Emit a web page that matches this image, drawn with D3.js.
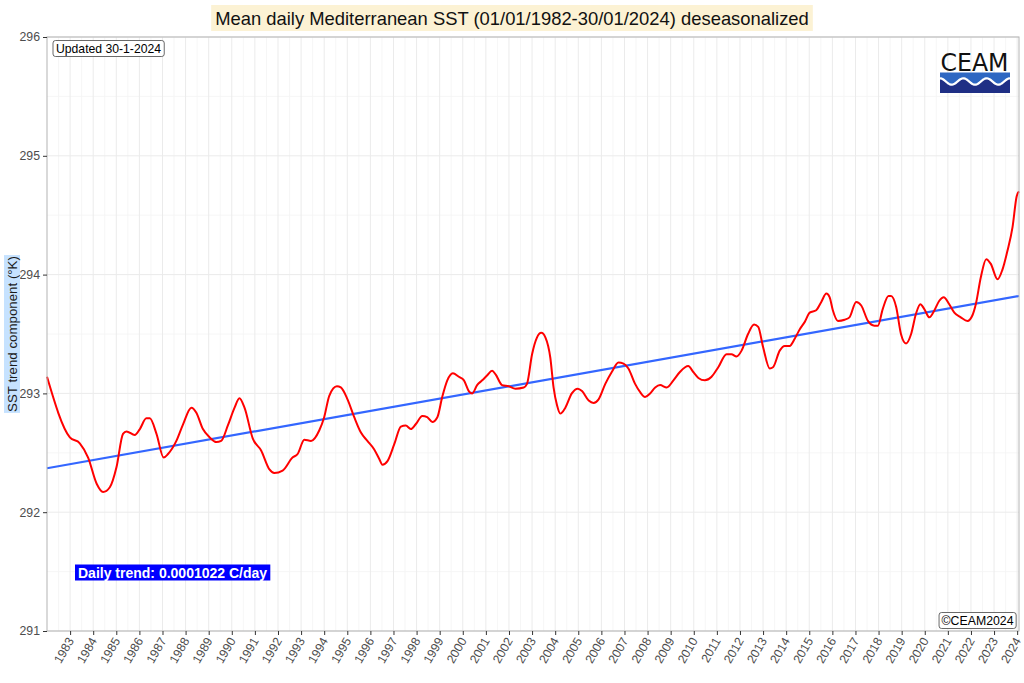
<!DOCTYPE html>
<html>
<head>
<meta charset="utf-8">
<script src="https://cdn.jsdelivr.net/npm/d3@7"></script>
<style>
  html, body { margin: 0; padding: 0; background: #ffffff; }
  svg { display: block; font-family: "Liberation Sans", Arial, sans-serif; }
</style>
</head>
<body>
<svg id="chart" width="1024" height="683"></svg>
<script>
// ---------------- data ----------------
const title = "Mean daily Mediterranean SST (01/01/1982-30/01/2024) deseasonalized";
const yTitle = "SST trend component (°K)";
const updatedLabel = "Updated 30-1-2024";
const trendLabel = "Daily trend: 0.0001022 C/day";
const copyrightLabel = "©CEAM2024";

const xTickYears = d3.range(1983, 2025);
const yTickValues = [291, 292, 293, 294, 295, 296];

// decimal year of each point
const sstYears = [
  1982.00, 1982.99, 1983.42, 1983.78, 1984.15, 1984.43, 1984.72, 1985.01, 1985.29, 1985.44,
  1985.80, 1986.02, 1986.30, 1986.45, 1986.74, 1987.05, 1987.24, 1987.60, 1987.89, 1988.25,
  1988.46, 1988.75, 1989.04, 1989.33, 1989.54, 1989.83, 1990.12, 1990.33, 1990.55, 1990.91,
  1991.27, 1991.63, 1991.84, 1992.20, 1992.63, 1992.85, 1993.14, 1993.43, 1993.79, 1994.00,
  1994.22, 1994.55, 1994.72, 1995.01, 1995.30, 1995.59, 1995.87, 1996.16, 1996.38, 1996.52,
  1996.74, 1997.03, 1997.32, 1997.53, 1997.75, 1997.96, 1998.25, 1998.46, 1998.68, 1998.90,
  1999.11, 1999.33, 1999.57, 1999.83, 2000.05, 2000.26, 2000.41, 2000.62, 2000.84, 2001.05,
  2001.27, 2001.42, 2001.70, 2001.99, 2002.28, 2002.64, 2002.78, 2003.00, 2003.21, 2003.40,
  2003.58, 2003.79, 2003.93, 2004.08, 2004.22, 2004.44, 2004.72, 2004.98, 2005.16, 2005.45,
  2005.66, 2005.88, 2006.17, 2006.45, 2006.74, 2006.96, 2007.17, 2007.46, 2007.68, 2007.89,
  2008.11, 2008.33, 2008.54, 2008.83, 2009.12, 2009.40, 2009.76, 2009.98, 2010.20, 2010.48,
  2010.77, 2011.06, 2011.42, 2011.63, 2011.85, 2012.07, 2012.35, 2012.61, 2012.79, 2013.00,
  2013.29, 2013.43, 2013.72, 2013.94, 2014.15, 2014.37, 2014.59, 2014.80, 2015.02, 2015.30,
  2015.52, 2015.74, 2015.88, 2016.02, 2016.24, 2016.53, 2016.74, 2017.03, 2017.25, 2017.54,
  2017.82, 2017.97, 2018.18, 2018.43, 2018.54, 2018.76, 2018.97, 2019.19, 2019.41, 2019.62,
  2019.81, 2019.98, 2020.20, 2020.42, 2020.63, 2020.82, 2021.06, 2021.28, 2021.56, 2021.85,
  2022.07, 2022.21, 2022.43, 2022.66, 2022.86, 2023.15, 2023.36, 2023.58, 2023.80, 2023.98,
  2024.08
];
const sstValues = [
  293.14, 292.63, 292.58, 292.46, 292.24, 292.17, 292.21, 292.38, 292.66, 292.68,
  292.65, 292.70, 292.79, 292.79, 292.66, 292.46, 292.49, 292.60, 292.74, 292.88,
  292.84, 292.70, 292.63, 292.59, 292.60, 292.73, 292.88, 292.96, 292.88, 292.62,
  292.52, 292.36, 292.33, 292.35, 292.46, 292.49, 292.61, 292.60, 292.69, 292.80,
  292.98, 293.06, 293.05, 292.95, 292.80, 292.67, 292.60, 292.53, 292.45, 292.40,
  292.43, 292.57, 292.72, 292.73, 292.70, 292.74, 292.81, 292.80, 292.76, 292.80,
  292.97, 293.11, 293.17, 293.14, 293.11, 293.02, 293.00, 293.07, 293.11, 293.15,
  293.19, 293.16, 293.07, 293.06, 293.04, 293.05, 293.08, 293.33, 293.47, 293.51,
  293.47, 293.30, 293.05, 292.90, 292.83, 292.88, 293.00, 293.04, 293.02, 292.94,
  292.92, 292.95, 293.08, 293.18, 293.26, 293.25, 293.21, 293.08, 293.01, 292.97,
  293.00, 293.05, 293.07, 293.05, 293.11, 293.18, 293.23, 293.18, 293.13, 293.11,
  293.14, 293.22, 293.33, 293.33, 293.31, 293.36, 293.50, 293.58, 293.56, 293.39,
  293.21, 293.22, 293.36, 293.40, 293.40, 293.46, 293.54, 293.60, 293.68, 293.70,
  293.77, 293.84, 293.81, 293.70, 293.61, 293.62, 293.64, 293.77, 293.74, 293.61,
  293.57, 293.57, 293.71, 293.82, 293.82, 293.73, 293.50, 293.42, 293.50, 293.67,
  293.75, 293.71, 293.64, 293.70, 293.78, 293.81, 293.75, 293.68, 293.64, 293.61,
  293.66, 293.75, 293.98, 294.13, 294.09, 293.96, 294.04, 294.20, 294.40, 294.66,
  294.70
];

const trendYears = [1982.00, 2024.08];
const trendValues = [292.37, 293.82];

// ---------------- layout ----------------
const svg = d3.select("#chart");
const margin = { left: 47, right: 1019, top: 37, bottom: 631 };

const x = d3.scaleLinear().domain([1982.0, 2024.08]).range([margin.left, margin.right]);
const y = d3.scaleLinear().domain([291, 296]).range([margin.bottom, margin.top]);

const W = margin.right - margin.left, H = margin.bottom - margin.top;

svg.append("rect").attr("x", margin.left).attr("y", margin.top)
  .attr("width", W).attr("height", H).attr("fill", "#ffffff");

// minor grid
const minorX = d3.range(1982.5, 2024.1, 1);
const minorY = d3.range(291.5, 296, 1);
const grid = svg.append("g");
grid.selectAll(".mx").data(minorX).join("line")
  .attr("x1", d => x(d)).attr("x2", d => x(d))
  .attr("y1", margin.top).attr("y2", margin.bottom)
  .attr("stroke", "#f4f4f4").attr("stroke-width", 0.8);
grid.selectAll(".my").data(minorY).join("line")
  .attr("x1", margin.left).attr("x2", margin.right)
  .attr("y1", d => y(d)).attr("y2", d => y(d))
  .attr("stroke", "#f4f4f4").attr("stroke-width", 0.8);
// major grid
grid.selectAll(".Mx").data(xTickYears).join("line")
  .attr("x1", d => x(d)).attr("x2", d => x(d))
  .attr("y1", margin.top).attr("y2", margin.bottom)
  .attr("stroke", "#ebebeb").attr("stroke-width", 1);
grid.selectAll(".My").data(yTickValues).join("line")
  .attr("x1", margin.left).attr("x2", margin.right)
  .attr("y1", d => y(d)).attr("y2", d => y(d))
  .attr("stroke", "#ebebeb").attr("stroke-width", 1);

// trend line
const trendData = trendYears.map((t, i) => ({ t, v: trendValues[i] }));
svg.append("path").datum(trendData)
  .attr("d", d3.line().x(d => x(d.t)).y(d => y(d.v)))
  .attr("fill", "none").attr("stroke", "#3366ff").attr("stroke-width", 2.2);

// SST curve
const sstData = sstYears.map((t, i) => ({ t, v: sstValues[i] }));
svg.append("path").datum(sstData)
  .attr("d", d3.line().x(d => x(d.t)).y(d => y(d.v)).curve(d3.curveMonotoneX))
  .attr("fill", "none").attr("stroke", "#ff0000").attr("stroke-width", 2);

// panel border
svg.append("rect").attr("x", margin.left).attr("y", margin.top)
  .attr("width", W).attr("height", H)
  .attr("fill", "none").attr("stroke", "#b3b3b3").attr("stroke-width", 1);

// axes
const xAxis = svg.append("g").attr("transform", `translate(0,${margin.bottom})`)
  .call(d3.axisBottom(x).tickValues(xTickYears).tickFormat(d3.format("d")).tickSize(4).tickPadding(3));
xAxis.select(".domain").remove();
xAxis.selectAll(".tick line").attr("stroke", "#333333");
xAxis.selectAll(".tick text")
  .attr("fill", "#4d4d4d").attr("font-size", 12.3)
  .attr("text-anchor", "end").attr("dy", null).attr("y", 0).attr("x", 0)
  .attr("transform", "translate(1,8) rotate(-60)")
  .attr("dominant-baseline", "middle");

const yAxis = svg.append("g").attr("transform", `translate(${margin.left},0)`)
  .call(d3.axisLeft(y).tickValues(yTickValues).tickFormat(d3.format("d")).tickSize(4).tickPadding(3));
yAxis.select(".domain").remove();
yAxis.selectAll(".tick line").attr("stroke", "#333333");
yAxis.selectAll(".tick text").attr("fill", "#4d4d4d").attr("font-size", 12.3);

// y title with background
const yT = svg.append("g").attr("transform", `translate(16.5,${(margin.top + margin.bottom) / 2}) rotate(-90)`);
const yTxt = yT.append("text").attr("text-anchor", "middle").attr("font-size", 13.3)
  .attr("fill", "#1a1a1a").attr("y", 0).text(yTitle);
const yb = yTxt.node().getBBox();
yT.insert("rect", "text").attr("x", yb.x - 1).attr("y", yb.y - 0.5)
  .attr("width", yb.width + 2).attr("height", yb.height + 1).attr("fill", "#c6e2ff");

// title
const tG = svg.append("g");
const tTxt = tG.append("text").attr("x", 512).attr("y", 24.5).attr("text-anchor", "middle")
  .attr("font-size", 18.4).attr("fill", "#111111").text(title);
const tb = tTxt.node().getBBox();
tG.insert("rect", "text").attr("x", tb.x - 4).attr("y", 5)
  .attr("width", tb.width + 8).attr("height", 26).attr("fill", "#fcf2d4");

// label helper
function boxLabel(px, py, txt, opts) {
  const g = svg.append("g");
  const t = g.append("text").attr("x", px).attr("y", py).attr("font-size", opts.size || 11)
    .attr("fill", opts.color || "#000").attr("font-weight", opts.weight || "normal").text(txt);
  if (opts.anchor) t.attr("text-anchor", opts.anchor);
  const b = t.node().getBBox();
  g.insert("rect", "text").attr("x", b.x - opts.padX).attr("y", b.y - opts.padY)
    .attr("width", b.width + 2 * opts.padX).attr("height", b.height + 2 * opts.padY)
    .attr("rx", opts.rx || 0).attr("fill", opts.fill || "#fff")
    .attr("stroke", opts.stroke || "none").attr("stroke-width", 0.8);
}
boxLabel(56, 52.5, updatedLabel, { size: 12.2, padX: 3, padY: 1, rx: 2.5, fill: "#ffffff", stroke: "#444" });
boxLabel(1013.5, 624.5, copyrightLabel, { size: 12.3, padX: 2.5, padY: 1, rx: 2.5, fill: "#ffffff", stroke: "#444", anchor: "end" });
boxLabel(78, 577.5, trendLabel, { size: 14, padX: 3, padY: 0, fill: "#0000ff", color: "#ffffff", weight: "bold" });

// CEAM logo
const logo = svg.append("g").attr("transform", "translate(940,52)");
logo.append("text").attr("x", 34.5).attr("y", 18.5).attr("text-anchor", "middle")
  .attr("font-size", 25).attr("font-family", "'DejaVu Sans', sans-serif")
  .attr("textLength", 68).attr("lengthAdjust", "spacingAndGlyphs")
  .attr("fill", "#111").text("CEAM");
logo.append("rect").attr("x", 0).attr("y", 20.5).attr("width", 70).attr("height", 20.5).attr("fill", "#2e67c2");
const wave = d3.range(0, 71, 1).map(px => [px, 29.5 - 3.2 * Math.cos(px / 70 * 3 * 2 * Math.PI)]);
const waveArea = wave.concat([[70, 41], [0, 41]]);
logo.append("path").attr("d", d3.line()(waveArea) + "Z").attr("fill", "#1f2f85");
logo.append("path").attr("d", d3.line()(wave)).attr("fill", "none").attr("stroke", "#ffffff").attr("stroke-width", 2.2);
</script>
</body>
</html>
